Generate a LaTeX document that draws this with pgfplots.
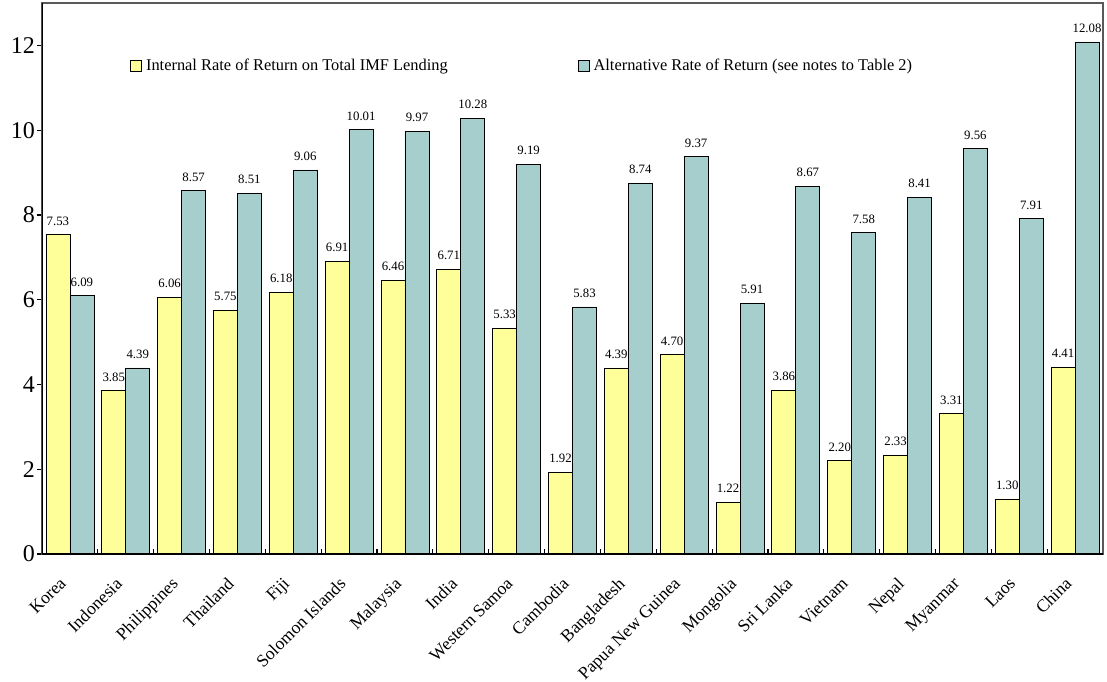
\documentclass[border=0pt]{standalone}
\usepackage{fontspec}
\setmainfont{Liberation Serif}
\usepackage{pgfplots}
\pgfplotsset{compat=1.18}
\usepackage{pgfplotstable}
\definecolor{barY}{RGB}{255,255,153}
\definecolor{barT}{RGB}{166,206,204}
\pgfplotstableread{
idx irr alt
0 7.53 6.09
1 3.85 4.39
2 6.06 8.57
3 5.75 8.51
4 6.18 9.06
5 6.91 10.01
6 6.46 9.97
7 6.71 10.28
8 5.33 9.19
9 1.92 5.83
10 4.39 8.74
11 4.70 9.37
12 1.22 5.91
13 3.86 8.67
14 2.20 7.58
15 2.33 8.41
16 3.31 9.56
17 1.30 7.91
18 4.41 12.08
}\datatable
\begin{document}
\begin{tikzpicture}
\useasboundingbox (-21pt,-63.5pt) rectangle (532.5pt,277pt);
\begin{axis}[
  at={(0,0)}, anchor=south west,
  scale only axis,
  width=530.5pt, height=275.5pt,
  ybar=0pt, bar width=12pt,
  xmin=-0.5, xmax=18.5,
  ymin=0, ymax=13,
  axis line style={draw=gray!70!black, line width=0.6pt},
  xtick=data,
  xticklabels={Korea,Indonesia,Philippines,Thailand,Fiji,Solomon Islands,Malaysia,India,Western Samoa,Cambodia,Bangladesh,Papua New Guinea,Mongolia,Sri Lanka,Vietnam,Nepal,Myanmar,Laos,China},
  x tick label style={rotate=45, anchor=north east, font=\fontsize{8.8}{9}\selectfont, inner sep=1pt, xshift=-8.9pt, yshift=-1pt},
  major x tick style={draw=none},
  minor xtick={-0.5,0.5,...,18.5},
  minor x tick style={black, line width=0.6pt, yshift=2.5pt},
  minor tick length=2.5pt,
  ytick={0,2,...,12},
  ytick pos=left, xtick pos=bottom,
  tick align=outside,
  major tick length=2.5pt,
  y tick style={black, line width=0.6pt},
  y tick label style={font=\fontsize{12}{14}\selectfont, xshift=2.5pt},
  /pgf/number format/assume math mode=true,
  nodes near coords,
  nodes near coords style={font=\fontsize{6.4}{7}\selectfont, /pgf/number format/.cd, fixed, fixed zerofill, precision=2, /tikz/.cd, yshift=1.2pt},
  legend columns=2,
  legend style={draw=none, fill=none, at={(rel axis cs:0.0828,0.885)}, anchor=west,
    font=\fontsize{8.2}{9}\selectfont, /tikz/every even column/.append style={column sep=63pt},
    inner sep=0pt},
  legend image code/.code={\draw[#1, line width=0.4pt] (0pt,-2.75pt) rectangle (5.5pt,2.75pt);},
]
\addplot[draw=black, line width=0.4pt, fill=barY] table[x=idx, y=irr] {\datatable};
\addlegendentry{Internal Rate of Return on Total IMF Lending}
\addplot[draw=black, line width=0.4pt, fill=barT] table[x=idx, y=alt] {\datatable};
\addlegendentry{Alternative Rate of Return (see notes to Table 2)}
\draw[black, line width=1pt] (rel axis cs:0,1) -- (rel axis cs:0,0) -- (rel axis cs:1,0);
\end{axis}
\end{tikzpicture}
\end{document}
